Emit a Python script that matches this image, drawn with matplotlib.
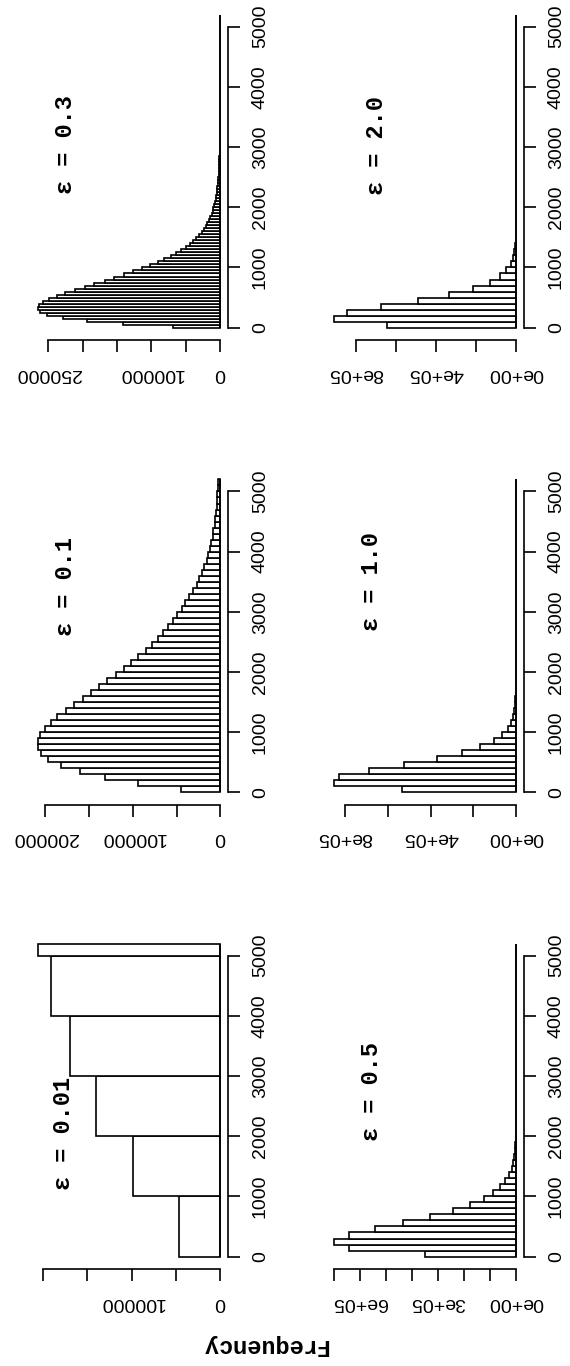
import numpy as np
import matplotlib.pyplot as plt

# ---- data (counts per bin) ----
titles = ["ε = 0.01", "ε = 0.1", "ε = 0.3", "ε = 0.5", "ε = 1.0", "ε = 2.0"]

breaks_001 = [0, 1000, 2000, 3000, 4000, 5000, 5200]
breaks_100 = list(range(0, 5201, 100))
breaks_050 = list(range(0, 5201, 50))

counts_001 = [47000, 98800, 140000, 169300, 190900, 206000]

counts_01 = [44700, 93500, 131700, 160300, 182000, 196600, 205300, 208700, 208700, 206100,
             200400, 193900, 186300, 176700, 167200, 157200, 148000, 138500, 129000, 119100,
             109900, 101900, 93500, 85100, 78200, 71300, 64900, 59200, 54200, 48900,
             43900, 40100, 35500, 31300, 26700, 23700, 21000, 18000, 15200, 13400,
             11500, 10300, 8800, 7700, 6500, 5700, 4900, 4200, 3400, 3100,
             2600, 2300]

counts_03 = [68000, 141000, 194000, 229000, 251000, 262000, 265000, 263000, 257000, 248000,
             237000, 225000, 211000, 197000, 183000, 168000, 154000, 140000, 127000, 114000,
             102000, 91000, 81000, 72000, 64000, 56500, 50000, 44000, 39000, 34500,
             30500, 27000, 23800, 21000, 18500, 16300, 14300, 12600, 11100, 9800,
             8600, 7600, 6700, 5900, 5200, 4600, 4000, 3500, 3100, 2700,
             2400, 2100, 1850, 1600, 1400, 1250, 1100, 950, 840, 740,
             650, 570, 500, 440, 390, 340, 300, 260, 230, 200,
             180, 160, 140, 120, 105, 92, 81, 71, 62, 55,
             48, 42, 37, 32, 28, 25, 22, 19, 17, 15,
             13, 11, 10, 9, 8, 7, 6, 5, 4, 4,
             3, 3, 2, 2]

counts_05 = [350000, 643000, 700000, 643000, 541000, 433000, 331000, 244000, 178000, 125000,
             89000, 62000, 42000, 27000, 17000, 11000, 7000, 4500, 2800, 1800,
             1100, 700, 430, 270, 170, 100, 65, 40, 25, 15,
             10, 6, 4, 2, 1, 1, 0, 0, 0, 0,
             0, 0, 0, 0, 0, 0, 0, 0, 0, 0,
             0, 0]

counts_10 = [535000, 852600, 826500, 687000, 524000, 372000, 252600, 167400, 105600, 66500,
             40000, 26000, 16500, 10500, 6500, 4000, 2500, 1500, 900, 550,
             330, 200, 120, 70, 40, 25, 15, 9, 5, 3,
             2, 1, 1, 0, 0, 0, 0, 0, 0, 0,
             0, 0, 0, 0, 0, 0, 0, 0, 0, 0,
             0, 0]

counts_20 = [642000, 908500, 845000, 673500, 490000, 333500, 215000, 132000, 78500, 48500,
             27000, 16000, 9500, 5500, 3200, 1900, 1100, 650, 380, 220,
             130, 75, 45, 26, 15, 9, 5, 3, 2, 1,
             1, 0, 0, 0, 0, 0, 0, 0, 0, 0,
             0, 0, 0, 0, 0, 0, 0, 0, 0, 0,
             0, 0]

value_ticks = [0, 1000, 2000, 3000, 4000, 5000]

freq_ticks = [
    [0, 50000, 100000, 150000, 200000],
    [0, 50000, 100000, 150000, 200000],
    [0, 50000, 100000, 150000, 200000, 250000],
    [0, 100000, 200000, 300000, 400000, 500000, 600000, 700000],
    [0, 200000, 400000, 600000, 800000],
    [0, 200000, 400000, 600000, 800000],
]
freq_labels = [
    ["0", "", "100000", "", ""],
    ["0", "", "100000", "", "200000"],
    ["0", "", "100000", "", "", "250000"],
    ["0e+00", "", "", "3e+05", "", "", "6e+05", ""],
    ["0e+00", "", "4e+05", "", "8e+05"],
    ["0e+00", "", "4e+05", "", "8e+05"],
]

all_breaks = [breaks_001, breaks_100, breaks_050, breaks_100, breaks_100, breaks_100]
all_counts = [counts_001, counts_01, counts_03, counts_05, counts_10, counts_20]

# ---- layout (pixels, figure is the R plot turned on its side) ----
W, H = 570, 1366
col_x = [30.5, 326.5]          # left edge of plot region for each column
row_y = [931.0, 466.9, 2.1]    # top edge of plot region: eps 0.01 row is lowest
reg_w, reg_h = 197.0, 338.1
# title centres (x, y) in pixels
title_pos = [(64, 1134), (66, 587), (66, 145), (371, 1092), (371, 582), (376, 146)]

plt.rcParams['font.family'] = ['Liberation Sans', 'DejaVu Sans']
fig = plt.figure(figsize=(W / 100, H / 100), dpi=100)

lw = 1.2
for i in range(6):
    col = i // 3
    row = i % 3
    x0 = col_x[col]
    y0 = row_y[row]
    ax = fig.add_axes([x0 / W, 1 - (y0 + reg_h) / H, reg_w / W, reg_h / H])

    br = np.array(all_breaks[i])
    cnt = np.array(all_counts[i])
    ax.barh(br[:-1], cnt, height=np.diff(br), align='edge',
            color='white', edgecolor='black', linewidth=lw)
    # base side of every bar (also covers the empty / near-empty tail bins)
    ax.plot([0, 0], [br[0], br[-1]], color='black', linewidth=lw, solid_capstyle='butt')

    # R style 4% padding, frequency grows to the left
    vpad = 0.04 * (br[-1] - br[0])
    ax.set_ylim(br[0] - vpad, br[-1] + vpad)
    fmax = cnt.max()
    ax.set_xlim(1.04 * fmax, -0.04 * fmax)

    for s in ['top', 'left']:
        ax.spines[s].set_visible(False)
    ax.spines['right'].set_bounds(0, 5000)
    ax.spines['bottom'].set_bounds(0, freq_ticks[i][-1])
    ax.spines['right'].set_linewidth(lw)
    ax.spines['bottom'].set_linewidth(lw)

    ax.yaxis.tick_right()
    ax.set_yticks(value_ticks)
    ax.set_yticklabels([str(v) for v in value_ticks], rotation=90, va='center')
    ax.set_xticks(freq_ticks[i])
    ax.set_xticklabels(freq_labels[i], rotation=180)
    ax.tick_params(length=8.6, width=lw, pad=9, labelsize=14, direction='out')
    ax.patch.set_visible(False)

    tx, ty = title_pos[i]
    fig.text(tx / W, 1 - ty / H, titles[i], rotation=90, ha='center', va='center',
             family=['Liberation Mono', 'DejaVu Sans Mono'], weight='bold', fontsize=17)

fig.text(265 / W, 1 - 1346 / H, "Frequency", rotation=180, ha='center', va='center',
         family=['Liberation Mono', 'DejaVu Sans Mono'], weight='bold', fontsize=17)

fig.savefig("out.png", dpi=100)
